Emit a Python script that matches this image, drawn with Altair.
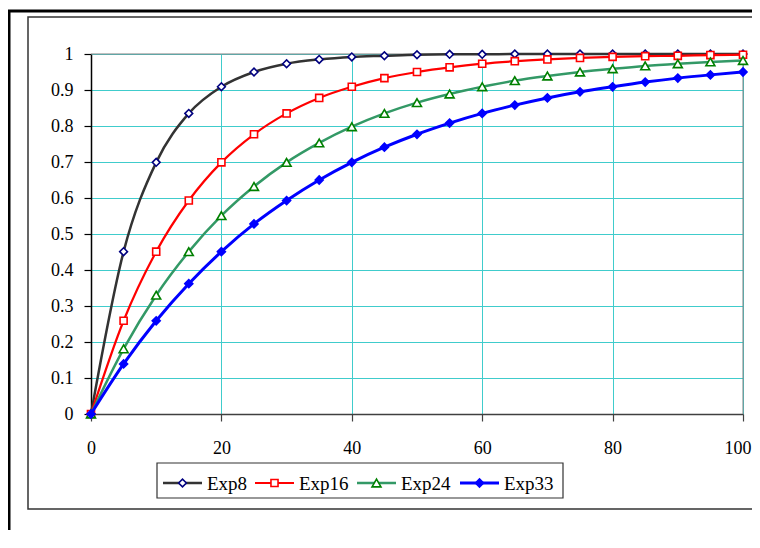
import altair as alt
import pandas as pd

# ---------------- data ----------------
x_vals = list(range(0, 101, 5))
series_names = ["Exp8", "Exp16", "Exp24", "Exp33"]
exp8 = [0, 0.451, 0.699, 0.835, 0.909, 0.950, 0.973, 0.985, 0.992, 0.995, 0.998,
        0.999, 0.999, 1.000, 1.000, 1.000, 1.000, 1.000, 1.000, 1.000, 1.000]
exp16 = [0, 0.259, 0.451, 0.593, 0.699, 0.777, 0.835, 0.878, 0.909, 0.933, 0.950,
         0.963, 0.973, 0.980, 0.985, 0.989, 0.992, 0.994, 0.995, 0.997, 0.998]
exp24 = [0, 0.181, 0.330, 0.451, 0.551, 0.632, 0.699, 0.753, 0.798, 0.835, 0.865,
         0.889, 0.909, 0.926, 0.939, 0.950, 0.959, 0.967, 0.973, 0.978, 0.982]
exp33 = [0, 0.139, 0.259, 0.362, 0.451, 0.528, 0.593, 0.650, 0.699, 0.741, 0.777,
         0.808, 0.835, 0.858, 0.878, 0.895, 0.909, 0.922, 0.933, 0.942, 0.950]
series_values = [exp8, exp16, exp24, exp33]
x_ticks = [0, 20, 40, 60, 80, 100]
y_ticks = [0, 0.1, 0.2, 0.3, 0.4, 0.5, 0.6, 0.7, 0.8, 0.9, 1]

# ---------------- styles ----------------
line_colors = ["#333333", "#FF0000", "#339966", "#0000FF"]
marker_colors = ["#000080", "#FF0000", "#008000", "#0000FF"]
marker_shapes = ["diamond", "square", "triangle-up", "diamond"]
marker_filled = [False, False, False, True]
marker_sizes = [60, 50, 80, 64]
line_widths = [2.5, 2.2, 2.5, 3.0]

W, H = 652, 360
FONT = "'Liberation Serif', 'Times New Roman', 'DejaVu Serif', serif"
GRID = "#40CCCC"

# legend layout (pixels, relative to plot origin)
LEG_BOX = (66, 472, 409, 444)
LEG_Y = 429
leg_line_start = [72, 164, 266, 369]
LEG_LINE_LEN = 39
LEG_TEXT_GAP = 5

one = pd.DataFrame({"k": [0]})

x_scale = alt.Scale(domain=[0, 100], nice=False, zero=False)
y_scale = alt.Scale(domain=[0, 1], nice=False)
x_axis = alt.Axis(values=x_ticks, title=None, grid=True, format="d", labelOverlap=False,
                  labelFlush=False, labelBound=False,
                  labelAlign={"condition": {"test": "datum.value == 100", "value": "right"},
                              "value": "center"},
                  labelOffset={"condition": {"test": "datum.value == 100", "value": 8},
                               "value": 0},
                  labelFont=FONT, labelFontSize=18, labelColor="#000000",
                  labelPadding=18, domainColor="#404040", tickColor="#404040",
                  tickSize=7, gridColor=GRID)
y_axis = alt.Axis(values=y_ticks, title=None, grid=True, format="~g", labelOverlap=False,
                  labelFlush=False, labelBound=False,
                  labelFont=FONT, labelFontSize=18, labelColor="#000000",
                  labelPadding=11, domainColor="#000000", tickColor="#000000",
                  tickSize=7, gridColor=GRID)
enc_x = alt.X("x:Q", scale=x_scale, axis=x_axis)
enc_y = alt.Y("y:Q", scale=y_scale, axis=y_axis)

layers = []

# chart area borders
layers.append(alt.Chart(one).mark_rect(filled=False, stroke="#000000", strokeWidth=3).encode(
    x=alt.value(-82), x2=alt.value(1000), y=alt.value(-43), y2=alt.value(700)))
layers.append(alt.Chart(one).mark_rect(filled=False, stroke="#333333", strokeWidth=1.5).encode(
    x=alt.value(-63), x2=alt.value(1000), y=alt.value(-37), y2=alt.value(455)))

# plot border (top & right)
layers.append(alt.Chart(one).mark_rule(color="#808080", strokeWidth=1).encode(
    x=alt.value(0), x2=alt.value(W), y=alt.value(0)))
layers.append(alt.Chart(one).mark_rule(color="#808080", strokeWidth=1).encode(
    x=alt.value(W), y=alt.value(0), y2=alt.value(H)))

for name, vals, lc, mc, shp, fil, sz, lw in zip(series_names, series_values, line_colors,
                                               marker_colors, marker_shapes, marker_filled,
                                               marker_sizes, line_widths):
    d = pd.DataFrame({"x": x_vals, "y": vals, "series": name})
    layers.append(alt.Chart(d).mark_line(color=lc, strokeWidth=lw, interpolate="monotone")
                  .encode(x=enc_x, y=enc_y))
    pt = dict(shape=shp, size=sz, filled=fil, opacity=1, strokeWidth=1.6, stroke=mc,
              fill=(mc if fil else "#FFFFFF"))
    layers.append(alt.Chart(d).mark_point(**pt).encode(x=enc_x, y=enc_y))

# legend
layers.append(alt.Chart(one).mark_rect(filled=False, stroke="#333333", strokeWidth=1.2).encode(
    x=alt.value(LEG_BOX[0]), x2=alt.value(LEG_BOX[1]), y=alt.value(LEG_BOX[2]), y2=alt.value(LEG_BOX[3])))
for name, x0, lc, mc, shp, fil, sz, lw in zip(series_names, leg_line_start, line_colors,
                                             marker_colors, marker_shapes, marker_filled,
                                             marker_sizes, line_widths):
    layers.append(alt.Chart(one).mark_rule(color=lc, strokeWidth=lw).encode(
        x=alt.value(x0), x2=alt.value(x0 + LEG_LINE_LEN), y=alt.value(LEG_Y)))
    pt = dict(shape=shp, size=sz, filled=fil, opacity=1, strokeWidth=1.6, stroke=mc,
              fill=(mc if fil else "#FFFFFF"))
    layers.append(alt.Chart(one).mark_point(**pt).encode(
        x=alt.value(x0 + LEG_LINE_LEN / 2), y=alt.value(LEG_Y)))
    layers.append(alt.Chart(one).mark_text(align="left", baseline="middle", font=FONT,
                                           fontSize=19, color="#000000").encode(
        x=alt.value(x0 + LEG_LINE_LEN + LEG_TEXT_GAP), y=alt.value(LEG_Y + 1), text=alt.value(name)))

chart = alt.layer(*layers).properties(
    width=W, height=H,
    padding={"left": 83, "top": 46, "right": 9, "bottom": 116},
    autosize=alt.AutoSizeParams(type="none"),
    background="#FFFFFF",
).configure_view(stroke=None).configure_axis(
    labelFont=FONT, labelFontSize=18, labelColor="#000000", tickSize=7,
    gridColor=GRID, gridWidth=1, gridOpacity=1, domainWidth=1.5, tickWidth=1.2,
)

chart.save("out.html", embed_options={"renderer": "svg", "actions": False})
